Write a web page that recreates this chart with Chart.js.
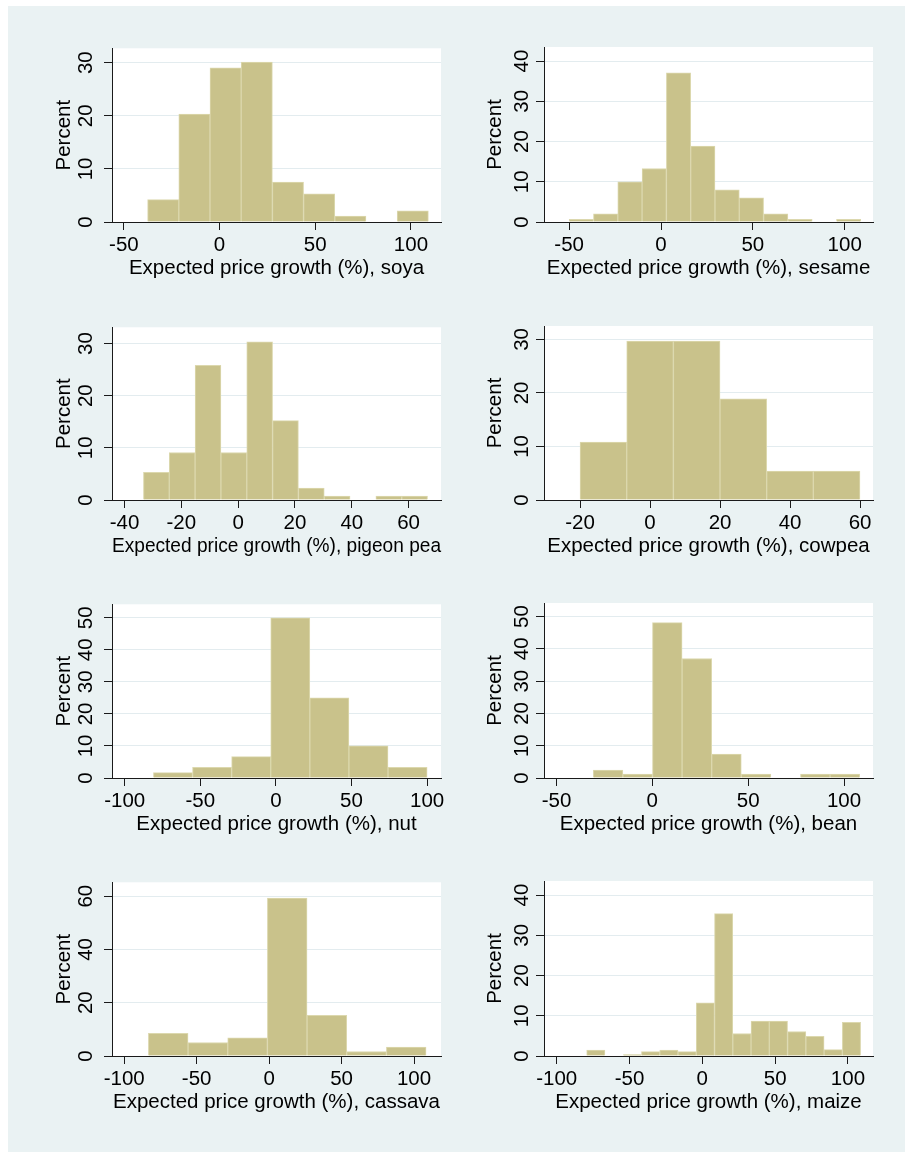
<!DOCTYPE html>
<html>
<head>
<meta charset="utf-8">
<script src="https://cdn.jsdelivr.net/npm/chart.js@4.4.1/dist/chart.umd.min.js"></script>
<style>
  html, body { margin: 0; padding: 0; background: #fff; }
  body { width: 907px; height: 1154px; position: relative; overflow: hidden; }
  #frame { position: absolute; left: 8px; top: 6px; right: 2px; bottom: 2px; background: #eaf2f3; }
  canvas { position: absolute; }
</style>
</head>
<body>
<div id="frame"></div>
<canvas id="soya"></canvas>
<canvas id="sesame"></canvas>
<canvas id="pigeon"></canvas>
<canvas id="cowpea"></canvas>
<canvas id="nut"></canvas>
<canvas id="bean"></canvas>
<canvas id="cassava"></canvas>
<canvas id="maize"></canvas>
<script>
// histogram data: lower edge of first bin, bin width, percent in each bin
const soyaStart = -37.6, soyaWidth = 16.3;
const soyaPct = [4.2, 20.3, 29.0, 30.1, 7.5, 5.3, 1.1, 0, 2.1];

const sesameStart = -50, sesameWidth = 13.23;
const sesamePct = [0.66, 2.0, 10.0, 13.3, 37.1, 18.9, 8.0, 6.0, 2.0, 0.66, 0, 0.66];

const pigeonStart = -33.33, pigeonWidth = 9.09;
const pigeonPct = [5.3, 9.1, 25.8, 9.1, 30.3, 15.2, 2.3, 0.76, 0, 0.76, 0.76];

const cowpeaStart = -20, cowpeaWidth = 13.33;
const cowpeaPct = [10.8, 29.7, 29.7, 18.9, 5.4, 5.4];

const nutStart = -81, nutWidth = 25.86;
const nutPct = [1.67, 3.33, 6.67, 50, 25, 10, 3.33];

const beanStart = -30.8, beanWidth = 15.44;
const beanPct = [2.47, 1.23, 48.1, 37.0, 7.4, 1.23, 0, 1.23, 1.23];

const cassavaStart = -83.3, cassavaWidth = 27.37;
const cassavaPct = [8.47, 5.08, 6.78, 59.3, 15.25, 1.69, 3.39];

const maizeStart = -79.4, maizeWidth = 12.54;
const maizePct = [1.5, 0, 0.36, 1.1, 1.5, 1.1, 13.2, 35.4, 5.6, 8.7, 8.7, 6.1, 4.9, 1.6, 8.4];

// axis ticks
const xTicks100 = [-50, 0, 50, 100];
const xTicksPigeon = [-40, -20, 0, 20, 40, 60];
const xTicksCowpea = [-20, 0, 20, 40, 60];
const xTicksWide = [-100, -50, 0, 50, 100];
const yTicks30 = [0, 10, 20, 30];
const yTicks40 = [0, 10, 20, 30, 40];
const yTicks50 = [0, 10, 20, 30, 40, 50];
const yTicks60 = [0, 20, 40, 60];

const panels = [
  { id: 'soya', name: 'soya', start: soyaStart, width: soyaWidth, pct: soyaPct, xTicks: xTicks100, yTicks: yTicks30, xMin: -56.2, xMax: 115.7, yMax: 32.7 },
  { id: 'sesame', name: 'sesame', start: sesameStart, width: sesameWidth, pct: sesamePct, xTicks: xTicks100, yTicks: yTicks40, xMin: -63.7, xMax: 115.4, yMax: 43.5 },
  { id: 'pigeon', name: 'pigeon pea', start: pigeonStart, width: pigeonWidth, pct: pigeonPct, xTicks: xTicksPigeon, yTicks: yTicks30, xMin: -44.4, xMax: 71.4, yMax: 33.1 },
  { id: 'cowpea', name: 'cowpea', start: cowpeaStart, width: cowpeaWidth, pct: cowpeaPct, xTicks: xTicksCowpea, yTicks: yTicks30, xMin: -30.3, xMax: 63.7, yMax: 32.5 },
  { id: 'nut', name: 'nut', start: nutStart, width: nutWidth, pct: nutPct, xTicks: xTicksWide, yTicks: yTicks50, xMin: -108.4, xMax: 109.2, yMax: 54.2 },
  { id: 'bean', name: 'bean', start: beanStart, width: beanWidth, pct: beanPct, xTicks: xTicks100, yTicks: yTicks50, xMin: -56.5, xMax: 115.1, yMax: 54.2 },
  { id: 'cassava', name: 'cassava', start: cassavaStart, width: cassavaWidth, pct: cassavaPct, xTicks: xTicksWide, yTicks: yTicks60, xMin: -108.4, xMax: 118.6, yMax: 65.2 },
  { id: 'maize', name: 'maize', start: maizeStart, width: maizeWidth, pct: maizePct, xTicks: xTicksWide, yTicks: yTicks40, xMin: -108.7, xMax: 117.2, yMax: 43.5 }
];

const FONT = { family: "'Liberation Sans', Arial, Helvetica, sans-serif", size: 20.5 };
const INK = '#1a1a1a';
const GRID = '#e3ecef';
const BAR_FILL = '#c9c28b';
const BAR_EDGE = '#dcd8ae';

const cols = [
  { left: 40, plotLeft: 112, plotRight: 441, width: 420, tickPad: 6, titlePad: 11.7 },
  { left: 470, plotLeft: 544, plotRight: 873, width: 420, tickPad: 2.4, titlePad: 12.7 }
];
const rows = [
  { plotTop: 47, axisY: 222 },
  { plotTop: 326, axisY: 500 },
  { plotTop: 603, axisY: 778 },
  { plotTop: 881, axisY: 1056 }
];
const PAD_TOP = 17, XAXIS_H = 60;

const whiteArea = {
  id: 'whiteArea',
  beforeDraw(chart) {
    const { ctx, chartArea: a } = chart;
    ctx.save();
    ctx.fillStyle = '#fff';
    ctx.fillRect(a.left, a.top, a.right - a.left, a.bottom - a.top);
    ctx.restore();
  }
};

function drawHist(p, i) {
  const col = cols[i % 2], row = rows[Math.floor(i / 2)];
  const cv = document.getElementById(p.id);
  const top = row.plotTop - PAD_TOP;
  const h = row.axisY - row.plotTop + PAD_TOP + XAXIS_H;
  cv.width = col.width;
  cv.height = h;
  cv.style.left = col.left + 'px';
  cv.style.top = top + 'px';
  cv.style.width = col.width + 'px';
  cv.style.height = h + 'px';

  const pts = p.pct.map((v, k) => ({ x: p.start + (k + 0.5) * p.width, y: v }));

  new Chart(cv, {
    type: 'bar',
    data: {
      datasets: [{
        data: pts,
        backgroundColor: BAR_FILL,
        borderColor: BAR_EDGE,
        borderWidth: 1,
        borderSkipped: 'start',
        barPercentage: 1,
        categoryPercentage: 1
      }]
    },
    options: {
      responsive: false,
      animation: false,
      devicePixelRatio: 1,
      layout: { padding: { top: PAD_TOP, left: 0, bottom: 0, right: col.left + col.width - col.plotRight } },
      plugins: { legend: { display: false }, tooltip: { enabled: false } },
      scales: {
        x: {
          type: 'linear',
          min: p.xMin,
          max: p.xMax,
          offset: false,
          afterBuildTicks: s => { s.ticks = p.xTicks.map(v => ({ value: v })); },
          afterFit: s => { s.height = XAXIS_H; },
          grid: { display: true, offset: false, drawOnChartArea: false, drawTicks: true, tickLength: 8, tickColor: INK },
          border: { display: true, color: INK, width: 1 },
          ticks: { font: FONT, color: '#000', padding: 3, maxRotation: 0, autoSkip: false, callback: v => String(v) },
          title: { display: true, text: 'Expected price growth (%), ' + p.name, font: FONT, color: '#000', padding: { top: 0, bottom: 1.2 } }
        },
        y: {
          type: 'linear',
          min: 0,
          max: p.yMax,
          afterBuildTicks: s => { s.ticks = p.yTicks.map(v => ({ value: v })); },
          afterFit: s => { s.width = col.plotLeft - col.left; },
          grid: { color: GRID, tickColor: INK, tickLength: 8, lineWidth: 1 },
          border: { display: true, color: INK, width: 1 },
          ticks: { font: FONT, color: '#000', padding: col.tickPad, minRotation: 90, maxRotation: 90, crossAlign: 'center', autoSkip: false, callback: v => String(v) },
          title: { display: true, text: 'Percent', font: FONT, color: '#000', padding: { top: col.titlePad, bottom: 0 } }
        }
      }
    },
    plugins: [whiteArea]
  });
}

panels.forEach(drawHist);
</script>
</body>
</html>
